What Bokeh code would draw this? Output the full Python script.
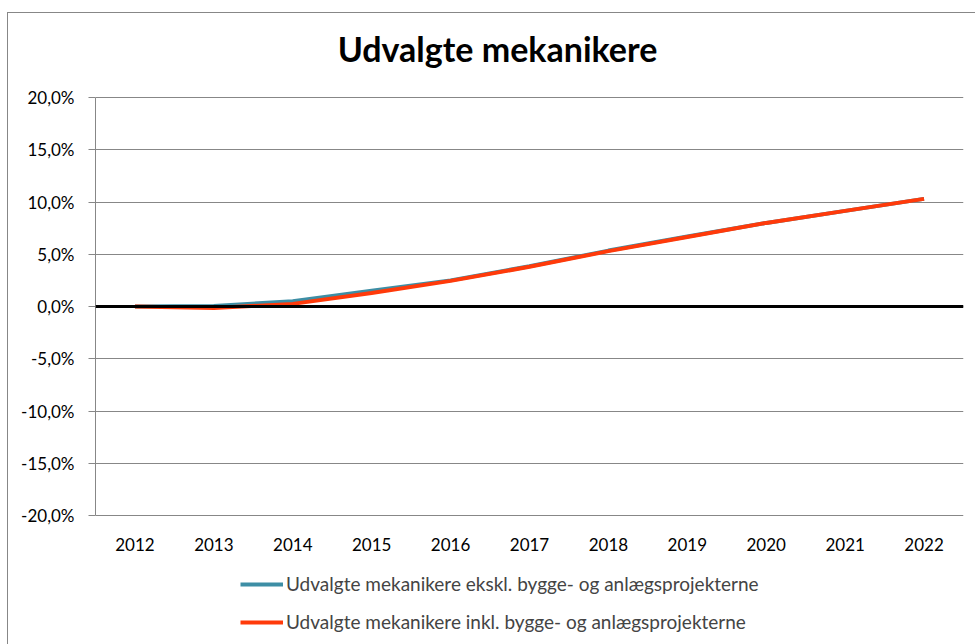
from bokeh.plotting import figure
from bokeh.models import Range1d, FactorRange, FixedTicker, Span, Legend, LegendItem, Label
from bokeh.embed import file_html
from bokeh.resources import INLINE

years = ["2012", "2013", "2014", "2015", "2016", "2017", "2018", "2019", "2020", "2021", "2022"]
ekskl = [0.0, 0.05, 0.5, 1.5, 2.5, 3.85, 5.35, 6.7, 8.0, 9.15, 10.3]
inkl = [0.0, -0.15, 0.25, 1.3, 2.45, 3.8, 5.3, 6.65, 8.0, 9.15, 10.3]
y_ticks = [-20, -15, -10, -5, 0, 5, 10, 15, 20]
y_labels = ["-20,0%", "-15,0%", "-10,0%", "-5,0%", "0,0%", "5,0%", "10,0%", "15,0%", "20,0%"]
title_text = "Udvalgte mekanikere"
name_ekskl = "Udvalgte mekanikere ekskl. bygge- og anlægsprojekterne"
name_inkl = "Udvalgte mekanikere inkl. bygge- og anlægsprojekterne"

FONT = "Lato"
GRID = "#878787"

# value axis spans -20..20 over 418 px; the frame continues 84 px above (title)
# and 129 px below (category labels + legend)
PX = 40 / 418
y_lo = -20 - 129 * PX
y_hi = 20 + 84 * PX

p = figure(x_range=FactorRange(*years, range_padding=0), y_range=Range1d(y_lo, y_hi),
           frame_width=868, frame_height=631,
           min_border_left=87, min_border_right=12, min_border_top=0, min_border_bottom=0,
           output_backend="svg", toolbar_location=None, tools="")
p.styles = {"margin-left": "7px", "margin-top": "12px",
            "border-left": "1px solid #878787", "border-top": "1px solid #878787"}
p.outline_line_color = None
p.background_fill_color = "white"
p.border_fill_color = "white"

p.xgrid.grid_line_color = None
p.ygrid.ticker = FixedTicker(ticks=y_ticks)
p.ygrid.grid_line_color = GRID
p.ygrid.grid_line_width = 1

p.yaxis.ticker = FixedTicker(ticks=y_ticks)
p.yaxis.bounds = (-20, 20)
p.yaxis.major_label_overrides = {t: l for t, l in zip(y_ticks, y_labels)}
p.yaxis.axis_line_color = GRID
p.yaxis.major_tick_line_color = GRID
p.yaxis.major_tick_out = 7
p.yaxis.major_tick_in = 0
p.yaxis.minor_tick_line_color = None
p.yaxis.major_label_standoff = 14
p.yaxis.major_label_text_font = FONT
p.yaxis.major_label_text_font_size = "17px"
p.yaxis.major_label_text_color = "black"

p.xaxis.fixed_location = -20
p.xaxis.axis_line_color = None
p.xaxis.major_tick_line_color = None
p.xaxis.minor_tick_line_color = None
p.xaxis.major_label_standoff = 16
p.xaxis.major_label_text_font = FONT
p.xaxis.major_label_text_font_size = "17px"
p.xaxis.major_label_text_color = "black"

p.add_layout(Span(location=0, dimension="width", line_color="black", line_width=3))

r1 = p.line(years, ekskl, line_color="#3D8EA5", line_width=4)
r2 = p.line(years, inkl, line_color="#FF3A0A", line_width=4)

p.add_layout(Label(x=402, x_units="screen", y=20 + 49 * PX, text=title_text,
                   text_font=FONT, text_font_size="34px", text_font_style="bold",
                   text_color="black", text_align="center", text_baseline="middle"))

legend = Legend(items=[LegendItem(label=name_ekskl, renderers=[r1]),
                       LegendItem(label=name_inkl, renderers=[r2])],
                location=(145, 11), orientation="vertical",
                glyph_width=43, glyph_height=20, label_height=20, spacing=15,
                padding=0, margin=0, label_standoff=3,
                label_text_font=FONT, label_text_font_size="19px",
                border_line_color=None, background_fill_alpha=0)
p.add_layout(legend, "center")

open("out.html", "w").write(file_html(p, INLINE))
